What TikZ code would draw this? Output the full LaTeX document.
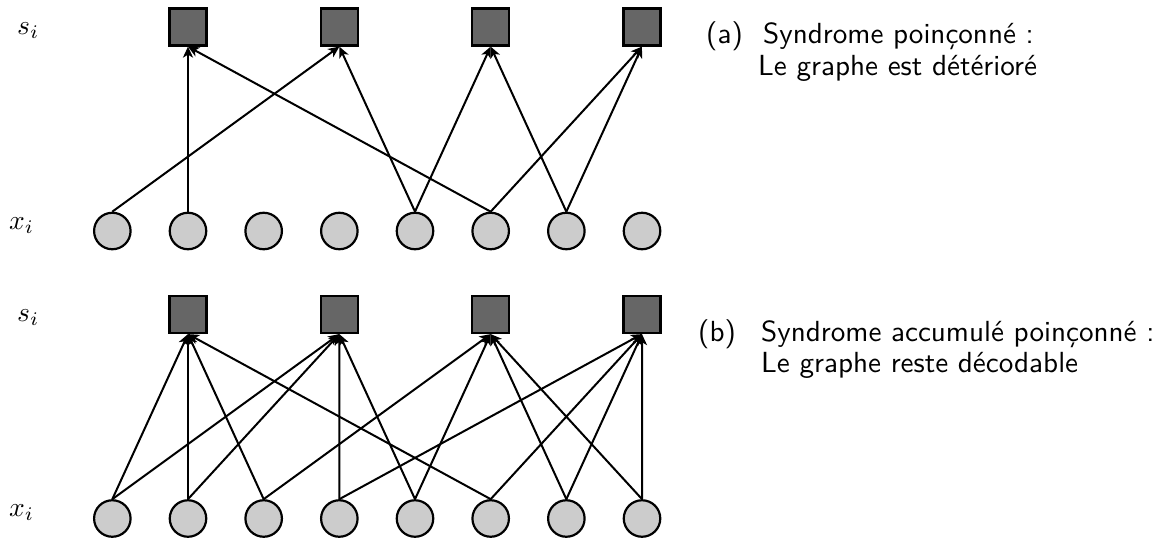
\documentclass[tikz,border=0pt]{standalone}
\usepackage{graphicx}
\usetikzlibrary{arrows.meta}
\definecolor{checkgray}{HTML}{666666}
\definecolor{vargray}{HTML}{CCCCCC}
% text set at its 10pt design size, then enlarged
\newcommand{\bigsf}[1]{\scalebox{2.91}{\fontsize{10}{12}\selectfont\sffamily #1}}
\newcommand{\bigmath}[1]{\scalebox{2.75}{\fontsize{10}{12}\selectfont $#1$}}
\begin{document}
\begin{tikzpicture}[x=1pt,y=-1pt,
  checknode/.style={draw=black,line width=2.2pt,fill=checkgray,minimum width=37pt,minimum height=37pt,inner sep=0pt},
  varnode/.style={draw=black,line width=2.2pt,fill=vargray,circle,minimum size=36.5pt,inner sep=0pt},
  link/.style={line width=2pt,-{Stealth[length=11pt,width=10pt,inset=3pt]}},
  rowlabel/.style={anchor=base west,inner sep=0pt},
  captext/.style={anchor=base west,inner sep=0pt}]
\useasboundingbox (0,0) rectangle (1172,541);

% (a) punctured syndrome
\foreach \k in {1,...,4}
  \node[checknode] (a-s\k) at ({188+151.33*(\k-1)},27) {};
\foreach \i in {1,...,8}
  \node[varnode] (a-x\i) at ({112.33+75.67*(\i-1)},231) {};
\foreach \i/\k in {1/2,2/1,5/2,5/3,6/1,6/4,7/3,7/4}
  \draw[link] (a-x\i.north) -- (a-s\k.south);

% (b) punctured accumulated syndrome
\foreach \k in {1,...,4}
  \node[checknode] (b-s\k) at ({188+151.33*(\k-1)},314.5) {};
\foreach \i in {1,...,8}
  \node[varnode] (b-x\i) at ({112.33+75.67*(\i-1)},518.5) {};
\foreach \i/\k in {1/1,1/2,2/1,2/2,3/1,3/3,4/2,4/4,5/2,5/3,6/1,6/4,7/3,7/4,8/3,8/4}
  \draw[link] (b-x\i.north) -- (b-s\k.south);

% row labels
\node[rowlabel] (a-sl) at (17,34) {\bigmath{s_i}};
\node[rowlabel] (a-xl) at (9,229) {\bigmath{x_i}};
\node[rowlabel] (b-sl) at (17,321.5) {\bigmath{s_i}};
\node[rowlabel] (b-xl) at (9,516.5) {\bigmath{x_i}};

% captions
\node[captext] (a-tag) at (706,43.5) {\bigsf{(a)}};
\node[captext] (a-l1) at (763,43.5) {\bigsf{Syndrome poinçonné :}};
\node[captext] (a-l2) at (758,75) {\bigsf{Le graphe est détérioré}};
\node[captext] (b-tag) at (698,341.5) {\bigsf{(b)}};
\node[captext] (b-l1) at (761,341.5) {\bigsf{Syndrome accumulé poinçonné :}};
\node[captext] (b-l2) at (761,372) {\bigsf{Le graphe reste décodable}};
\end{tikzpicture}
\end{document}
